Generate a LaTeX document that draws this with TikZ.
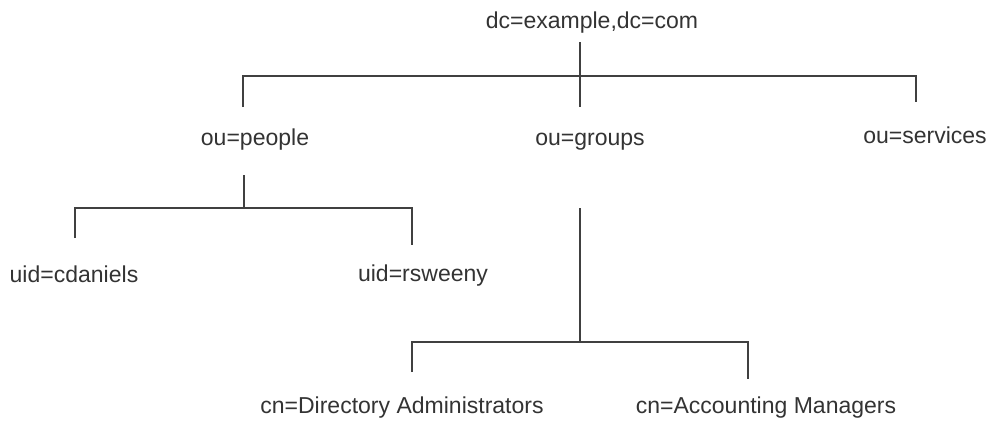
\documentclass[tikz,border=0pt]{standalone}
\usepackage{fontspec}
\setmainfont{Liberation Sans}
\usepackage{tikz}
\usetikzlibrary{positioning}

\begin{document}
\begin{tikzpicture}[
  x=0.02cm, y=-0.02cm,
  font=\fontsize{13.1}{15}\selectfont,
  every node/.style={align=center},
  entry/.style={anchor=base, inner sep=0pt, text=black!80},
  edge/.style={draw=black!75, line width=1.1pt}
]
\useasboundingbox (0,0) rectangle (991,420);

\node[entry] (root) at (592,28)  {dc=example,dc=com};
\node[entry] (ppl)  at (255,145) {ou=people};
\node[entry] (grp)  at (590,145) {ou=groups};
\node[entry] (svc)  at (925,143) {ou=services};
\node[entry] (cdan) at (74,282)  {uid=cdaniels};
\node[entry] (rswe) at (423,281) {uid=rsweeny};
\node[entry] (dira) at (402,413) {cn=Directory Administrators};
\node[entry] (accm) at (766,413) {cn=Accounting Managers};

% bus junctions and drop ends
\coordinate (j0) at (580,76);
\coordinate (j1) at (244,208);
\coordinate (j2) at (580,342);
\coordinate (d1) at (243,107);
\coordinate (d2) at (580,107);
\coordinate (d3) at (916,102);
\coordinate (d4) at (75,238);
\coordinate (d5) at (412,245);
\coordinate (d6) at (412,372);
\coordinate (d7) at (748,379);

\draw[edge] (root.south -| j0) ++(0,9) -- (d2);
\draw[edge] (d1) |- (j0) -| (d3);

\draw[edge] (ppl.south -| j1) ++(0,25) -- (j1);
\draw[edge] (d4) |- (j1) -| (d5);

\draw[edge] (grp.south -| j2) ++(0,58) -- (j2);
\draw[edge] (d6) |- (j2) -| (d7);
\end{tikzpicture}
\end{document}
